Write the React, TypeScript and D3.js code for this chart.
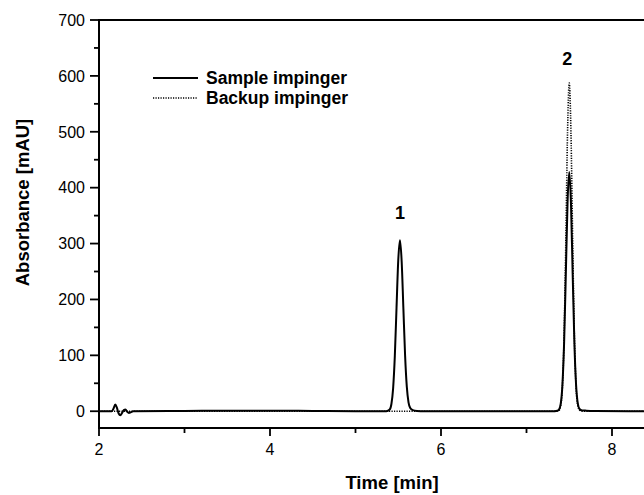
import React from "react";
import * as d3 from "d3";

// Time axis (min) and absorbance (mAU)
const sampleTime = [2.0, 2.15, 2.17, 2.19, 2.21, 2.23, 2.25, 2.27, 2.29, 2.31, 2.33, 2.35, 2.37, 2.4, 3.0, 3.8, 4.0, 4.5, 5.0, 5.36, 5.4, 5.42, 5.44, 5.46, 5.48, 5.5, 5.52, 5.54, 5.56, 5.58, 5.6, 5.62, 5.64, 5.67, 5.72, 5.8, 7.3, 7.36, 7.38, 7.4, 7.42, 7.44, 7.46, 7.48, 7.5, 7.52, 7.54, 7.56, 7.58, 7.6, 7.62, 7.65, 7.7, 7.8, 8.2, 9.0];
const sampleValue = [0, 0, 5, 12, 6, -4, -7, -3, 2, 3, -1, -3, -2, 0, 0.5, 1, 1, 0.5, 0, 0, 3, 13, 41, 99, 186, 270, 306, 268, 184, 100, 44, 16, 6, 2, 0.5, 0, 0, 1, 3, 13, 47, 123, 246, 373, 428, 373, 246, 123, 47, 14, 4, 1.5, 1, 0.5, 0, 0];

const backupTime = [2.0, 3.0, 4.0, 5.0, 6.0, 7.0, 7.34, 7.38, 7.4, 7.42, 7.44, 7.46, 7.48, 7.5, 7.52, 7.54, 7.56, 7.58, 7.6, 7.62, 7.66, 8.0, 9.0];
const backupValue = [0, 0, 0, 0, 0, 0, 0, 1.7, 10, 43, 135, 305, 499, 587, 499, 305, 135, 43, 10, 2, 0, 0, 0];

const xMajorTicks = [2, 4, 6, 8];
const xMinorTicks = [3, 5, 7, 9];
const yMajorTicks = [0, 100, 200, 300, 400, 500, 600, 700];
const yMinorTicks = [50, 150, 250, 350, 450, 550, 650];

const seriesNames = ["Sample impinger", "Backup impinger"];
const peakLabels = ["1", "2"];
const peakTimes = [5.52, 7.5];

export default function App() {
  const W = 644;
  const H = 495;
  const left = 99;
  const top = 20;
  const bottom = 428;
  const x = d3.scaleLinear().domain([2, 9]).range([left, left + 7 * 85.5]);
  const y = d3.scaleLinear().domain([-30, 700]).range([bottom, top]);

  const line = d3
    .line<[number, number]>()
    .x((d) => x(d[0]))
    .y((d) => y(d[1]))
    .curve(d3.curveMonotoneX);

  const sampleData: [number, number][] = sampleTime.map((t, i) => [t, sampleValue[i]]);
  const backupData: [number, number][] = backupTime.map((t, i) => [t, backupValue[i]]);

  const font = "'Liberation Sans', Arial, Helvetica, sans-serif";

  return (
    <svg
      width={W}
      height={H}
      style={{ position: "absolute", left: 0, top: 0, background: "#fff" }}
      fontFamily={font}
    >
      <rect x={0} y={0} width={W} height={H} fill="#fff" />
      <defs>
        <clipPath id="plotclip">
          <rect x={left} y={top} width={W - left} height={bottom - top} />
        </clipPath>
      </defs>

      {/* data */}
      <g clipPath="url(#plotclip)">
        <path d={line(sampleData) || ""} fill="none" stroke="#000" strokeWidth={2} strokeLinejoin="round" />
        <path d={line(backupData) || ""} fill="none" stroke="#000" strokeWidth={1.6} strokeDasharray="1.2,1.3" />
      </g>

      {/* frame */}
      <line x1={left} x2={W} y1={top} y2={top} stroke="#000" strokeWidth={2} />
      <line x1={left} x2={W} y1={bottom} y2={bottom} stroke="#000" strokeWidth={2} />
      <line x1={left} x2={left} y1={top - 1} y2={bottom + 1} stroke="#000" strokeWidth={2} />

      {/* y ticks */}
      {yMajorTicks.map((v) => (
        <g key={"ym" + v}>
          <line x1={left - 9} x2={left} y1={y(v)} y2={y(v)} stroke="#000" strokeWidth={1.8} />
          <text x={left - 14} y={y(v)} dy="0.36em" textAnchor="end" fontSize={16} fill="#000">
            {v}
          </text>
        </g>
      ))}
      {yMinorTicks.map((v) => (
        <line key={"yn" + v} x1={left - 5} x2={left} y1={y(v)} y2={y(v)} stroke="#000" strokeWidth={1.8} />
      ))}

      {/* x ticks */}
      {xMajorTicks.map((v) => (
        <g key={"xm" + v}>
          <line x1={x(v)} x2={x(v)} y1={bottom} y2={bottom + 8} stroke="#000" strokeWidth={1.8} />
          <text x={x(v)} y={bottom + 27} textAnchor="middle" fontSize={16} fill="#000">
            {v}
          </text>
        </g>
      ))}
      {xMinorTicks.map((v) => (
        <line key={"xn" + v} x1={x(v)} x2={x(v)} y1={bottom} y2={bottom + 5} stroke="#000" strokeWidth={1.8} />
      ))}

      {/* axis titles */}
      <text x={392} y={489} textAnchor="middle" fontSize={18.5} fontWeight="bold" fill="#000">
        Time [min]
      </text>
      <text
        transform="translate(29,202.5) rotate(-90)"
        textAnchor="middle"
        fontSize={18.5}
        fontWeight="bold"
        fill="#000"
      >
        Absorbance [mAU]
      </text>

      {/* peak labels */}
      <text x={x(peakTimes[0])} y={219} textAnchor="middle" fontSize={18} fontWeight="bold" fill="#000">
        {peakLabels[0]}
      </text>
      <text x={x(peakTimes[1]) - 2} y={65} textAnchor="middle" fontSize={18} fontWeight="bold" fill="#000">
        {peakLabels[1]}
      </text>

      {/* legend */}
      <line x1={153} x2={198} y1={78} y2={78} stroke="#000" strokeWidth={2} />
      <text x={206} y={84} fontSize={17.5} fontWeight="bold" fill="#000">
        {seriesNames[0]}
      </text>
      <line x1={153} x2={198} y1={98} y2={98} stroke="#000" strokeWidth={1.6} strokeDasharray="1.2,1.3" />
      <text x={206} y={104} fontSize={17.5} fontWeight="bold" fill="#000">
        {seriesNames[1]}
      </text>
    </svg>
  );
}
